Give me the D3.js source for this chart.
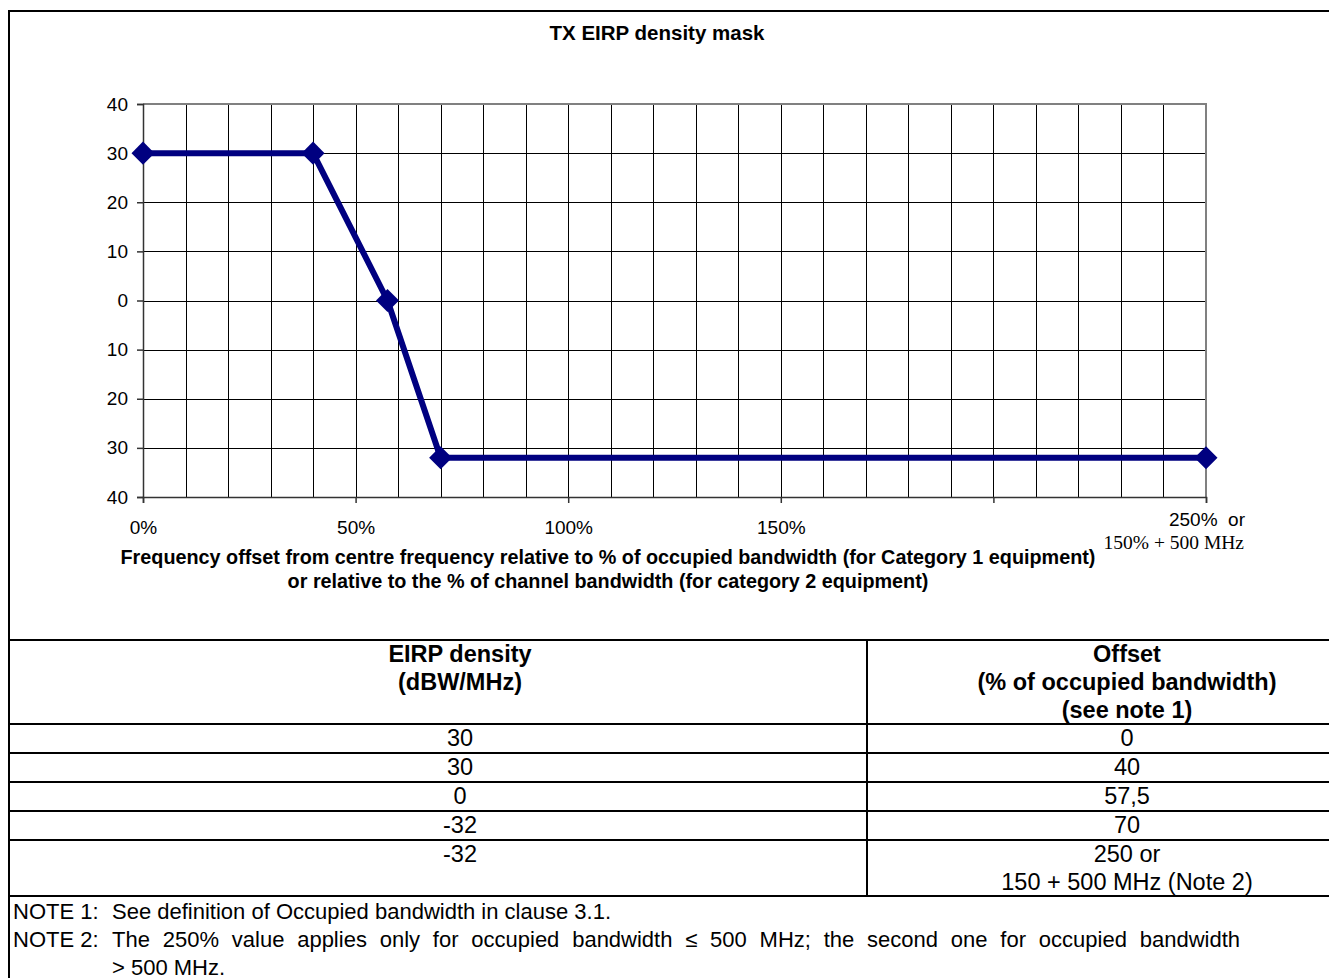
<!DOCTYPE html>
<html>
<head>
<title>TX EIRP density mask</title>
<script src="https://d3js.org/d3.v7.min.js" charset="utf-8"></script>
<style>
body { margin: 0; background: white; }
svg { display: block; font-family: "Liberation Sans", Arial, sans-serif; }
</style>
</head>
<body>
<script>
// chart values
var offsets = [0, 40, 57.5, 70, 250];      // % of occupied bandwidth
var eirp = [30, 30, 0, -32, -32];           // dBW/MHz
var yTicks = [-40, -30, -20, -10, 0, 10, 20, 30, 40];
var xTicks = [0, 50, 100, 150, 200, 250];
var xLabelled = [0, 50, 100, 150];
var gridX = d3.range(10, 250, 10);
var gridY = [-30, -20, -10, 0, 10, 20, 30];
var notes = [
  ["NOTE 1:", "See definition of Occupied bandwidth in clause 3.1.", false],
  ["NOTE 2:", "The 250% value applies only for occupied bandwidth \u2264 500 MHz; the second one for occupied bandwidth", true],
  ["", "> 500 MHz.", false]
];

var width = 1329, height = 978;
var svg = d3.select("body").append("svg")
  .attr("width", width)
  .attr("height", height);

var x = d3.scaleLinear().domain([0, 250]).range([143, 1206]);
var y = d3.scaleLinear().domain([-40, 40]).range([497, 104]);

// outer frame
svg.append("line").attr("x1", 9).attr("x2", width).attr("y1", 11).attr("y2", 11)
  .attr("stroke", "#000").attr("stroke-width", 2);
svg.append("line").attr("x1", 9).attr("x2", 9).attr("y1", 10).attr("y2", height)
  .attr("stroke", "#000").attr("stroke-width", 2);

svg.append("text")
  .attr("x", 657).attr("y", 40)
  .attr("text-anchor", "middle")
  .attr("font-weight", "bold")
  .attr("font-size", 20.5)
  .text("TX EIRP density mask");

// grid
var grid = svg.append("g");
grid.selectAll(".gx").data(gridX).enter().append("line")
  .attr("x1", function(d) { return Math.round(x(d)) + 0.5; })
  .attr("x2", function(d) { return Math.round(x(d)) + 0.5; })
  .attr("y1", y(40)).attr("y2", y(-40))
  .attr("stroke", "#000").attr("stroke-width", 1);
grid.selectAll(".gy").data(gridY).enter().append("line")
  .attr("x1", x(0)).attr("x2", x(250))
  .attr("y1", function(d) { return Math.round(y(d)) + 0.5; })
  .attr("y2", function(d) { return Math.round(y(d)) + 0.5; })
  .attr("stroke", "#000").attr("stroke-width", 1);
// plot frame top / right
grid.append("path")
  .attr("d", "M" + x(0) + "," + y(40) + "H" + x(250) + "V" + y(-40))
  .attr("fill", "none").attr("stroke", "#808080").attr("stroke-width", 2);

// axes
var yAxis = svg.append("g")
  .attr("transform", "translate(" + x(0) + ",0)")
  .call(d3.axisLeft(y).tickValues(yTicks).tickSize(6).tickPadding(9)
    .tickFormat(function(d) { return Math.abs(d); }));
var xAxis = svg.append("g")
  .attr("transform", "translate(0," + y(-40) + ")")
  .call(d3.axisBottom(x).tickValues(xTicks).tickSize(6).tickPadding(18)
    .tickFormat(function(d) { return xLabelled.indexOf(d) >= 0 ? d + "%" : ""; }));
[yAxis, xAxis].forEach(function(a) {
  a.selectAll("path, line").attr("stroke", "#333").attr("stroke-width", 1.5);
  a.selectAll("text").attr("font-size", 19).attr("fill", "#000")
    .attr("font-family", "Liberation Sans, Arial, sans-serif");
});

// label at the 250 end
svg.append("text")
  .attr("x", 1245).attr("y", 526)
  .attr("text-anchor", "end")
  .attr("font-size", 19)
  .attr("xml:space", "preserve")
  .text("250%  or");
svg.append("text")
  .attr("x", 1244).attr("y", 549)
  .attr("text-anchor", "end")
  .attr("font-size", 19.5)
  .attr("font-family", "Liberation Serif, Times New Roman, serif")
  .text("150% + 500 MHz");

// axis title
var xt = svg.append("text")
  .attr("text-anchor", "middle")
  .attr("font-weight", "bold")
  .attr("font-size", 19.8);
xt.append("tspan").attr("x", 608).attr("y", 564)
  .text("Frequency offset from centre frequency relative to % of occupied bandwidth (for Category 1 equipment)");
xt.append("tspan").attr("x", 608).attr("y", 588)
  .text("or relative to the % of channel bandwidth (for category 2 equipment)");

// mask line
var pts = offsets.map(function(d, i) { return [d, eirp[i]]; });
svg.append("path")
  .datum(pts)
  .attr("fill", "none")
  .attr("stroke", "#000080")
  .attr("stroke-width", 6)
  .attr("stroke-linejoin", "round")
  .attr("d", d3.line().x(function(d) { return x(d[0]); }).y(function(d) { return y(d[1]); }));
svg.selectAll(".mark").data(pts).enter().append("path")
  .attr("d", d3.symbol().type(d3.symbolSquare).size(265))
  .attr("transform", function(d) { return "translate(" + x(d[0]) + "," + y(d[1]) + ") rotate(45)"; })
  .attr("fill", "#000080");

// table
var rowLines = [640, 724, 753, 782, 811, 840, 896];
var tbl = svg.append("g");
tbl.selectAll(".hl").data(rowLines).enter().append("line")
  .attr("x1", 9).attr("x2", width)
  .attr("y1", function(d) { return d; }).attr("y2", function(d) { return d; })
  .attr("stroke", "#000").attr("stroke-width", 2);
tbl.append("line").attr("x1", 867).attr("x2", 867).attr("y1", 640).attr("y2", 896)
  .attr("stroke", "#000").attr("stroke-width", 2);

var colL = 460, colR = 1127;
var head = tbl.append("g").attr("font-weight", "bold").attr("font-size", 23.5).attr("text-anchor", "middle");
["EIRP density", "(dBW/MHz)"].forEach(function(t, i) {
  head.append("text").attr("x", colL).attr("y", 662 + i * 28).text(t);
});
["Offset", "(% of occupied bandwidth)", "(see note 1)"].forEach(function(t, i) {
  head.append("text").attr("x", colR).attr("y", 662 + i * 28).text(t);
});

var body = tbl.append("g").attr("font-size", 23.5).attr("text-anchor", "middle");
eirp.forEach(function(v, i) {
  var base = 746 + i * 29;
  body.append("text").attr("x", colL).attr("y", base).text(v);
  var off = String(offsets[i]).replace(".", ",");
  if (i === offsets.length - 1) {
    body.append("text").attr("x", colR).attr("y", base).text(off + " or");
    body.append("text").attr("x", colR).attr("y", base + 28).text("150 + 500 MHz (Note 2)");
  } else {
    body.append("text").attr("x", colR).attr("y", base).text(off);
  }
});

// notes; the first line of NOTE 2 is justified to the right margin
var noteX = 112, noteRight = 1240;
var nt = svg.append("g").attr("font-size", 22);
notes.forEach(function(n, i) {
  var base = 919 + i * 28;
  if (n[0]) nt.append("text").attr("x", 13).attr("y", base).text(n[0]);
  var t = nt.append("text").attr("x", noteX).attr("y", base).text(n[1]);
  if (n[2]) {
    var natural = t.node().getComputedTextLength();
    var gaps = n[1].split(" ").length - 1;
    t.attr("word-spacing", Math.max(0, (noteRight - noteX - natural) / gaps));
  }
});
</script>
</body>
</html>
